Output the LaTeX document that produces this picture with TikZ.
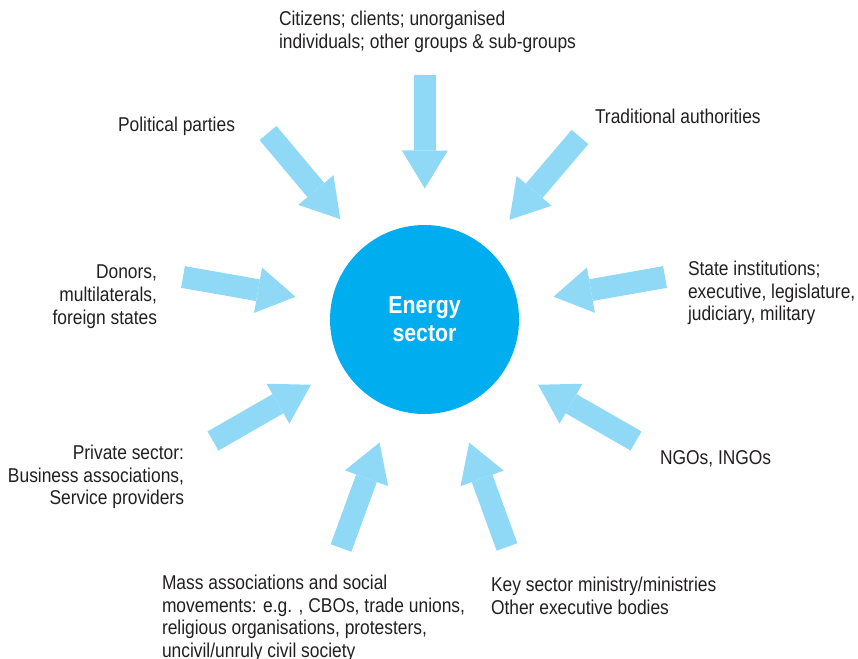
\documentclass[tikz,border=0pt]{standalone}
\usepackage{fontspec}
\setmainfont{Liberation Sans}[FakeStretch=0.87]
\usepackage{tikz}
\usetikzlibrary{arrows.meta}
\usepackage{xcolor}
\definecolor{sectorblue}{RGB}{0,174,239}
\definecolor{pushblue}{RGB}{143,217,247}
\definecolor{labelgray}{RGB}{35,31,32}

\begin{document}
\begin{tikzpicture}[x=1pt, y=-1pt,
   label/.style = {inner sep=0pt, outer sep=0pt, text=labelgray,
                   font=\fontsize{20pt}{22.7pt}\selectfont},
   push/.style = {pushblue, line width=22pt, shorten >=36.5pt,
                  -{Triangle[length=38pt, width=46pt, line width=0pt]}}]
   \useasboundingbox (0,0) rectangle (858,658);
   \node[circle, fill=sectorblue, minimum size=189pt, inner sep=0pt,
         outer sep=0pt, text=white, align=center,
         font=\bfseries\fontsize{24.5pt}{28pt}\selectfont]
         (energy) at (424.5,319.5) {Energy\\sector};
   % tails of the arrows
   \foreach \n/\x/\y in {citizens/425/75, traditional/580/137,
       state/665/277, ngos/636/441, ministry/507/547, mass/341/548,
       private/213/441, donors/183/277, parties/268/133}
     \coordinate (\n-tail) at (\x,\y);
   \foreach \n in {citizens, traditional, state, ngos, ministry,
       mass, private, donors, parties}
     \draw[push] (\n-tail) -- (energy);
   % labels
   \node[label, anchor=north west, align=left] (citizens) at (279,11.5)
     {Citizens; clients; unorganised\\individuals; other groups \& sub-groups};
   \node[label, anchor=north west] (parties) at (118,117) {Political parties};
   \node[label, anchor=north west] (traditional) at (595,109)
     {Traditional authorities};
   \node[label, anchor=north east, align=right] (donors) at (157,265)
     {Donors,\\multilaterals,\\foreign states};
   \node[label, anchor=north west, align=left] (state) at (688,261)
     {State institutions;\\executive, legislature,\\judiciary, military};
   \node[label, anchor=north west] (ngos) at (660,451) {NGOs, INGOs};
   \node[label, anchor=north east, align=right] (private) at (184,445)
     {Private sector:\\Business associations,\\Service providers};
   \node[label, anchor=north west, align=left] (mass) at (162,575)
     {Mass associations and social\\movements: e.g. , CBOs, trade unions,\\religious organisations, protesters,\\uncivil/unruly civil society};
   \node[label, anchor=north west, align=left] (ministry) at (491,577)
     {Key sector ministry/ministries\\Other executive bodies};
\end{tikzpicture}
\end{document}
